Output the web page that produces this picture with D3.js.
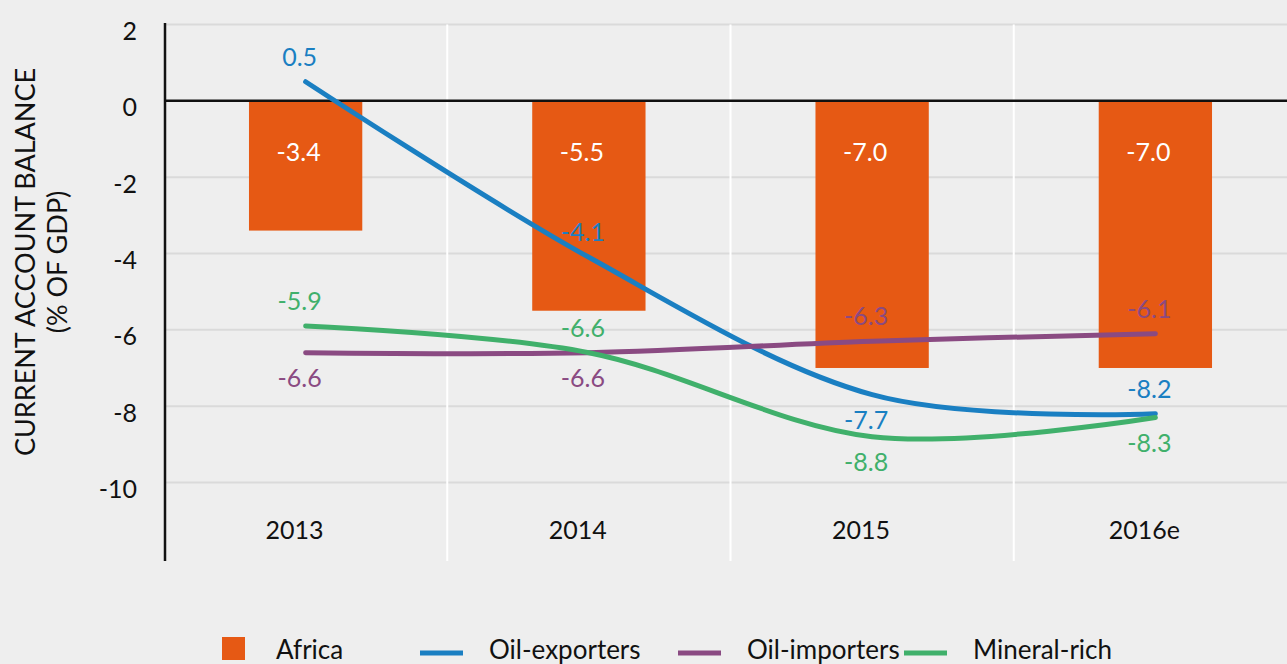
<!DOCTYPE html>
<html lang="en">
<head>
    <meta charset="UTF-8">
    <title>Current account balance</title>
    <script src="https://d3js.org/d3.v7.min.js" charset="utf-8"></script>
    <style>
        body { margin: 0; background: #eeeeee; }
        text { font-family: Lato, "Open Sans", sans-serif; }
    </style>
</head>
<body>
<script>
    // chart data
    var years = ["2013", "2014", "2015", "2016e"];
    var africa = [-3.4, -5.5, -7.0, -7.0];
    var oilExporters = [0.5, -4.1, -7.7, -8.2];
    var oilImporters = [-6.6, -6.6, -6.3, -6.1];
    var mineralRich = [-5.9, -6.6, -8.8, -8.3];
    var yTicks = [2, 0, -2, -4, -6, -8, -10];

    // where each line label sits relative to its point
    var exportersLabelPos = ["above", "above", "below", "above"];
    var importersLabelPos = ["below", "below", "above", "above"];
    var mineralLabelPos = ["above", "above", "below", "below"];

    var width = 1287, height = 664;

    var svg = d3.select("body").append("svg")
        .attr("width", width)
        .attr("height", height);

    var x = d3.scaleBand()
        .domain(years)
        .range([164, 1297])
        .paddingInner(0.6)
        .paddingOuter(0.3);
    var y = d3.scaleLinear().domain([-12, 2]).range([558.8, 24.5]);

    var cx = function(d, i) { return x(years[i]) + x.bandwidth() / 2; };

    // horizontal gridlines
    svg.append("g").selectAll("line")
        .data(yTicks.filter(function(t) { return t !== 0; }))
        .enter().append("line")
        .attr("x1", 165).attr("x2", width)
        .attr("y1", function(d) { return y(d); })
        .attr("y2", function(d) { return y(d); })
        .attr("stroke", "#dadada")
        .attr("stroke-width", 2);

    // vertical white gridlines between categories
    svg.append("g").selectAll("line")
        .data(years.slice(1))
        .enter().append("line")
        .attr("x1", function(d) { return x(d) - x.step() * x.paddingInner() / 2; })
        .attr("x2", function(d) { return x(d) - x.step() * x.paddingInner() / 2; })
        .attr("y1", y(2)).attr("y2", 561)
        .attr("stroke", "#ffffff")
        .attr("stroke-width", 2);

    // Africa bars
    svg.append("g").selectAll("rect")
        .data(africa)
        .enter().append("rect")
        .attr("x", function(d, i) { return x(years[i]); })
        .attr("y", y(0))
        .attr("width", x.bandwidth())
        .attr("height", function(d) { return y(d) - y(0); })
        .attr("fill", "#e65914");

    // zero line and y axis
    svg.append("line")
        .attr("x1", 165).attr("x2", width)
        .attr("y1", y(0)).attr("y2", y(0))
        .attr("stroke", "#111").attr("stroke-width", 2.5);
    svg.append("line")
        .attr("x1", 165).attr("x2", 165)
        .attr("y1", 23).attr("y2", 561)
        .attr("stroke", "#111").attr("stroke-width", 2.5);

    // bar labels
    svg.append("g").selectAll("text")
        .data(africa)
        .enter().append("text")
        .attr("x", function(d, i) { return cx(d, i) - 7; })
        .attr("y", y(0) + 51)
        .attr("dy", "0.36em")
        .attr("text-anchor", "middle")
        .attr("fill", "#ffffff")
        .style("font-size", "25px")
        .text(function(d) { return d.toFixed(1); });

    // smoothed lines with labels
    var line = d3.line()
        .x(function(d, i) { return cx(d, i); })
        .y(function(d) { return y(d); })
        .curve(d3.curveCardinal.tension(0));

    function drawSeries(values, color, labelPos) {
        svg.append("path")
            .datum(values)
            .attr("d", line)
            .attr("fill", "none")
            .attr("stroke", color)
            .attr("stroke-width", 5)
            .attr("stroke-linecap", "round");

        svg.append("g").selectAll("text")
            .data(values)
            .enter().append("text")
            .attr("x", function(d, i) { return cx(d, i) - 6; })
            .attr("y", function(d, i) { return y(d) + (labelPos[i] === "above" ? -25 : 25); })
            .attr("dy", "0.36em")
            .attr("text-anchor", "middle")
            .attr("fill", color)
            .style("font-size", "25px")
            .text(function(d) { return d.toFixed(1); });
    }

    drawSeries(oilExporters, "#1a7fc2", exportersLabelPos);
    drawSeries(oilImporters, "#8a4a82", importersLabelPos);
    drawSeries(mineralRich, "#40b06b", mineralLabelPos);

    // y tick labels
    svg.append("g").selectAll("text")
        .data(yTicks)
        .enter().append("text")
        .attr("x", 137)
        .attr("y", function(d) { return y(d) + 6.5; })
        .attr("dy", "0.36em")
        .attr("text-anchor", "end")
        .attr("fill", "#111")
        .style("font-size", "25px")
        .text(function(d) { return d; });

    // category labels
    svg.append("g").selectAll("text")
        .data(years)
        .enter().append("text")
        .attr("x", function(d) { return x(d) + x.bandwidth() / 2 - 11; })
        .attr("y", 530)
        .attr("dy", "0.36em")
        .attr("text-anchor", "middle")
        .attr("fill", "#111")
        .style("font-size", "25px")
        .text(function(d) { return d; });

    // y axis title
    var title = svg.append("text")
        .attr("transform", "translate(25,262) rotate(-90)")
        .attr("text-anchor", "middle")
        .attr("fill", "#111")
        .style("font-size", "27px");
    title.append("tspan").attr("x", 0).attr("dy", "0.36em").text("CURRENT ACCOUNT BALANCE");
    title.append("tspan").attr("x", 0).attr("dy", 32).text("(% OF GDP)");

    // legend
    var legendItems = [
        {name: "Africa", color: "#e65914", type: "bar", x: 222},
        {name: "Oil-exporters", color: "#1a7fc2", type: "line", x: 420},
        {name: "Oil-importers", color: "#8a4a82", type: "line", x: 678},
        {name: "Mineral-rich", color: "#40b06b", type: "line", x: 904}
    ];
    var legend = svg.append("g").selectAll("g")
        .data(legendItems)
        .enter().append("g")
        .attr("transform", function(d) { return "translate(" + d.x + ",653)"; });
    legend.filter(function(d) { return d.type === "bar"; })
        .append("rect")
        .attr("x", 0).attr("y", -16)
        .attr("width", 23).attr("height", 23)
        .attr("fill", function(d) { return d.color; });
    legend.filter(function(d) { return d.type === "line"; })
        .append("rect")
        .attr("x", 0).attr("y", -2.5)
        .attr("width", 43).attr("height", 5)
        .attr("fill", function(d) { return d.color; });
    legend.append("text")
        .attr("x", function(d) { return d.type === "bar" ? 54 : 69; })
        .attr("y", 6)
        .attr("fill", "#111")
        .style("font-size", "26px")
        .text(function(d) { return d.name; });
</script>
</body>
</html>
